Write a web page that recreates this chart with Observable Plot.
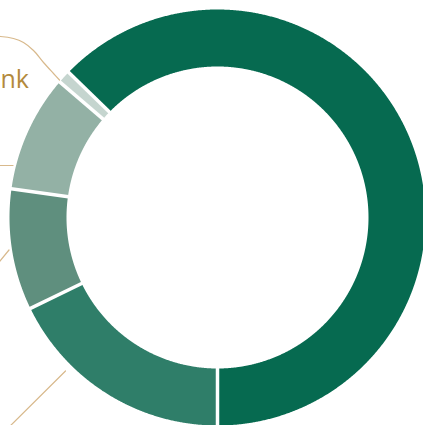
<!DOCTYPE html>
<html><head><meta charset="utf-8">
<script src="https://cdn.jsdelivr.net/npm/d3@7"></script>
<script src="https://cdn.jsdelivr.net/npm/@observablehq/plot@0.6"></script>
<style>html,body{margin:0;padding:0;background:#fff;overflow:hidden}</style>
</head><body><div id="chart"></div>
<script>
// ---- data ----
const categories = ["Segment B", "Segment C", "Segment D", "Segment E", "Segment A"];
const values = [17.8, 9.4, 9.1, 1.0, 62.7];
const colors = ["#2f7e69", "#5f8f7e", "#93b1a5", "#c5d5cf", "#066a50"];
const labelTexts = ["nk"];
// leader lines of labels that sit outside the visible crop (annotation paths)
const leaderIds = ["L1", "L2", "L3", "L4"];
const leaderXs = [[-10, 0, 13, 23, 33, 43, 53, 59], [-10, 12.5], [-10, 8.5], [-10, 65]];
const leaderYs = [[36, 36, 38, 42, 50, 62, 73, 79.5], [165, 165], [272, 249.5], [445, 370.5]];

// ---- geometry ----
const W = 423, H = 425, cx = 217, cy = 217, R = 208, r = 151;
const pol = (a, rad) => [cx + rad * Math.sin(a), cy - rad * Math.cos(a)];

const arcs = d3.pie().sort(null).startAngle(Math.PI).endAngle(3 * Math.PI)(values);
const slicePts = [];
arcs.forEach((d, i) => {
  const n = Math.max(4, Math.ceil((d.endAngle - d.startAngle) / (Math.PI / 720)));
  for (let k = 0; k <= n; k++) {
    const a = d.startAngle + (d.endAngle - d.startAngle) * k / n;
    const [x, y] = pol(a, R);
    slicePts.push({cat: categories[i], x, y});
  }
  for (let k = n; k >= 0; k--) {
    const a = d.startAngle + (d.endAngle - d.startAngle) * k / n;
    const [x, y] = pol(a, r);
    slicePts.push({cat: categories[i], x, y});
  }
});
const seps = arcs.map(d => {
  const [x1, y1] = pol(d.startAngle, r - 4);
  const [x2, y2] = pol(d.startAngle, R + 4);
  return {x1, y1, x2, y2};
});
const leaders = [];
leaderIds.forEach((id, i) => leaderXs[i].forEach((x, k) => leaders.push({id, x, y: leaderYs[i][k]})));
const labels = labelTexts.map(t => ({text: t, x: 28.5, y: 79}));

const chart = Plot.plot({
  width: W, height: H, margin: 0, axis: null,
  x: {type: "identity"}, y: {type: "identity"},
  color: {domain: categories, range: colors},
  style: {background: "#fff", overflow: "hidden"},
  marks: [
    Plot.line(slicePts, {x: "x", y: "y", z: "cat", fill: "cat", stroke: "none"}),
    Plot.link(seps, {x1: "x1", y1: "y1", x2: "x2", y2: "y2", stroke: "#fff", strokeWidth: 3.5}),
    Plot.line(leaders, {x: "x", y: "y", z: "id", stroke: "#d8b98c", strokeWidth: 1.2, curve: "catmull-rom"}),
    Plot.text(labels, {x: "x", y: "y", text: "text", textAnchor: "end", fill: "#b38a3c",
      fontSize: 25, fontFamily: "'Open Sans', Lato, sans-serif", lineAnchor: "middle"})
  ]
});
document.getElementById("chart").appendChild(chart);
</script>
</body></html>
